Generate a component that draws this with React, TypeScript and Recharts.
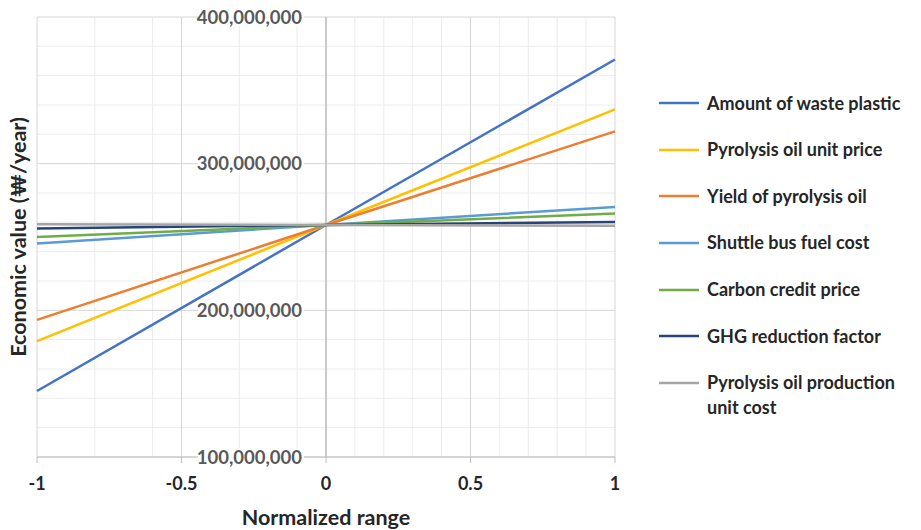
import React from "react";
import {
  LineChart,
  Line,
  XAxis,
  YAxis,
  CartesianGrid,
  ReferenceLine,
  Legend,
  Label,
} from "recharts";

// normalized range points
const xValues = [-1, 0, 1];

// economic value, won/year
const wastePlastic = [145e6, 258.2e6, 371e6];
const oilUnitPrice = [179e6, 258.2e6, 337e6];
const oilYield = [193.5e6, 258.2e6, 322e6];
const busFuelCost = [245.5e6, 258.2e6, 270.5e6];
const carbonPrice = [250e6, 258.2e6, 266e6];
const ghgFactor = [255.8e6, 258.2e6, 260.3e6];
const productionCost = [258.7e6, 258.2e6, 257.7e6];

const seriesNames = [
  "Amount of waste plastic",
  "Pyrolysis oil unit price",
  "Yield of pyrolysis oil",
  "Shuttle bus fuel cost",
  "Carbon credit price",
  "GHG reduction factor",
  "Pyrolysis oil production unit cost",
];
const seriesValues = [
  wastePlastic,
  oilUnitPrice,
  oilYield,
  busFuelCost,
  carbonPrice,
  ghgFactor,
  productionCost,
];
const seriesColors = ["#4472C4", "#FFC000", "#ED7D31", "#5B9BD5", "#70AD47", "#264478", "#A5A5A5"];

const xTicks = [-1, -0.5, 0, 0.5, 1];
const xMinor = [-0.9, -0.8, -0.7, -0.6, -0.4, -0.3, -0.2, -0.1, 0.1, 0.2, 0.3, 0.4, 0.6, 0.7, 0.8, 0.9];
const yTicks = [100e6, 200e6, 300e6, 400e6];
const yMinor = [120e6, 140e6, 160e6, 180e6, 220e6, 240e6, 260e6, 280e6, 320e6, 340e6, 360e6, 380e6];

const data = xValues.map((x, i) => {
  const row: Record<string, number> = { x };
  seriesValues.forEach((vals, s) => {
    row[`s${s}`] = vals[i];
  });
  return row;
});

const W = 921;
const H = 530;
const PLOT_LEFT = 37;
const PLOT_RIGHT = 615;
const ZERO_X = (PLOT_LEFT + PLOT_RIGHT) / 2;
const FONT = "Lato, 'Open Sans', sans-serif";

const YTick = (props: any) => {
  const { y, payload } = props;
  const label = Number(payload.value).toLocaleString("en-US");
  return (
    <g>
      <rect x={ZERO_X - 128} y={y - 9} width={106} height={18} fill="#fff" />
      <text
        x={ZERO_X - 24}
        y={y}
        dy="0.36em"
        textAnchor="end"
        fontFamily={FONT}
        fontSize={18.5}
        fontWeight={700}
        fill="#595959"
      >
        {label}
      </text>
    </g>
  );
};

const renderLegend = (props: any) => {
  const items = [...(props.payload || [])].sort(
    (a: any, b: any) => seriesNames.indexOf(a.value) - seriesNames.indexOf(b.value)
  );
  return (
    <div style={{ fontFamily: FONT, fontSize: 18, fontWeight: 700, color: "#262626" }}>
      {items.map((entry: any, i: number) => (
        <div key={i} style={{ display: "flex", alignItems: "flex-start", height: 46.67 }}>
          <svg width={48} height={20} style={{ flexShrink: 0 }}>
            <line x1={0} y1={10} x2={40} y2={10} stroke={entry.color} strokeWidth={2.5} />
          </svg>
          <span style={{ lineHeight: "25px", marginTop: -2.5, width: 200 }}>{entry.value}</span>
        </div>
      ))}
    </div>
  );
};

export default function App() {
  return (
    <div style={{ position: "absolute", left: 0, top: 0, width: W, height: H, background: "#fff" }}>
      <LineChart width={W} height={H} data={data} margin={{ top: 17, right: W - PLOT_RIGHT, bottom: 5, left: 0 }}>
        <CartesianGrid stroke="#ececec" strokeWidth={1} verticalValues={xMinor} horizontalValues={yMinor} />
        <CartesianGrid stroke="#d6d6d6" strokeWidth={1} verticalValues={xTicks} horizontalValues={yTicks} />
        <XAxis
          dataKey="x"
          type="number"
          domain={[-1, 1]}
          ticks={xTicks}
          height={68}
          stroke="#bfbfbf"
          tickSize={6}
          tickMargin={14}
          tick={{ fontFamily: FONT, fontSize: 18, fontWeight: 700, fill: "#262626" }}
        >
          <Label
            value="Normalized range"
            position="insideBottom"
            offset={0}
            style={{ fontFamily: FONT, fontSize: 21.5, fontWeight: 700, fill: "#262626" }}
          />
        </XAxis>
        <YAxis
          type="number"
          domain={[100e6, 400e6]}
          ticks={yTicks}
          allowDataOverflow
          width={PLOT_LEFT}
          axisLine={false}
          tickLine={false}
          tick={<YTick />}
        >
          <Label
            value="Economic value (₩/year)"
            angle={-90}
            position="center"
            style={{ fontFamily: FONT, fontSize: 21.5, fontWeight: 700, fill: "#262626", textAnchor: "middle" }}
          />
        </YAxis>
        <ReferenceLine x={0} stroke="#bfbfbf" strokeWidth={1.5} />
        {seriesNames.map((name, s) => (
          <Line
            key={name}
            type="linear"
            dataKey={`s${s}`}
            name={name}
            stroke={seriesColors[s]}
            strokeWidth={2.5}
            dot={false}
            activeDot={false}
            isAnimationActive={false}
          />
        ))}
        <Legend
          layout="horizontal"
          align="center"
          verticalAlign="middle"
          content={renderLegend}
          wrapperStyle={{ left: 659, top: 93, width: 262 }}
        />
      </LineChart>
    </div>
  );
}
